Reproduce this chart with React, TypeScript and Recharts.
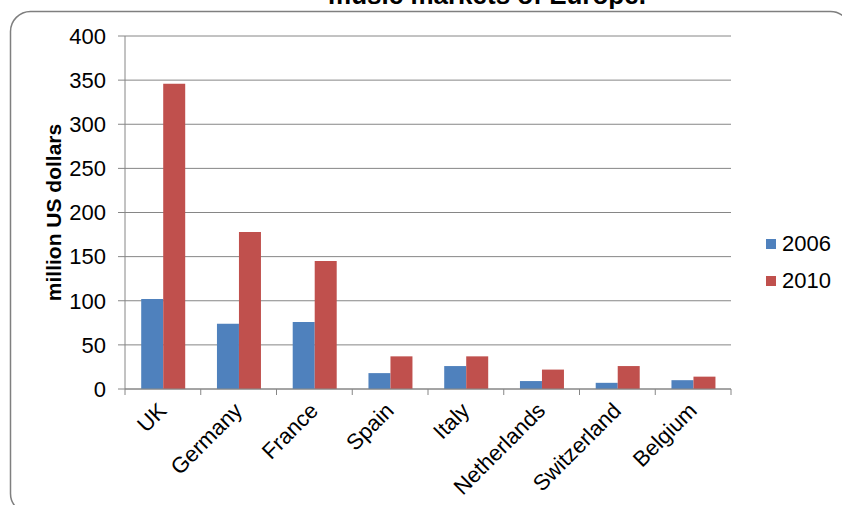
import React from "react";
import { BarChart, Bar, XAxis, YAxis, CartesianGrid, Legend } from "recharts";

const categories = ["UK", "Germany", "France", "Spain", "Italy", "Netherlands", "Switzerland", "Belgium"];
const values2006 = [102, 74, 76, 18, 26, 9, 7, 10];
const values2010 = [346, 178, 145, 37, 37, 22, 26, 14];
const yTicks = [0, 50, 100, 150, 200, 250, 300, 350, 400];
const seriesNames = ["2006", "2010"];
const seriesColors = ["#4F81BD", "#C0504D"];

const data = categories.map((c, i) => ({ name: c, y2006: values2006[i], y2010: values2010[i] }));

const FONT = "'Liberation Sans', Arial, sans-serif";
const GRID = "#868686";

const XTick = (props: any) => {
  const { x, y, payload, index } = props;
  const half = payload && payload.offset ? payload.offset : 0;
  const px = x + 5;
  const py = y + 23;
  return (
    <g>
      <line x1={x - half} y1={y} x2={x - half} y2={y + 6} stroke={GRID} strokeWidth={1} />
      {index === categories.length - 1 && <line x1={x + half} y1={y} x2={x + half} y2={y + 6} stroke={GRID} strokeWidth={1} />}
      <text x={px} y={py} transform={`rotate(-45, ${px}, ${py})`} textAnchor="end" fontSize={22} fill="#000" fontFamily={FONT}>
        {payload.value}
      </text>
    </g>
  );
};

const LegendContent = () => (
  <div style={{ fontFamily: FONT, fontSize: 22, color: "#000" }}>
    {seriesNames.map((n, i) => (
      <div key={n} style={{ display: "flex", alignItems: "center", height: 37 }}>
        <span style={{ display: "inline-block", width: 10, height: 10, background: seriesColors[i], marginRight: 6 }} />
        <span>{n}</span>
      </div>
    ))}
  </div>
);

export default function App() {
  return (
    <div style={{ position: "absolute", left: 0, top: 0, width: 842, height: 505, overflow: "hidden", background: "#fff", fontFamily: FONT }}>
      <svg width={842} height={505} style={{ position: "absolute", left: 0, top: 0 }}>
        <rect x={10.5} y={11.5} width={840} height={502} rx={20} ry={20} fill="none" stroke="#7f7f7f" strokeWidth={1.5} />
        <text x={487} y={4} textAnchor="middle" fontSize={26} fontWeight="bold" fontFamily={FONT} fill="#000">
          music markets of Europe.
        </text>
      </svg>
      <div style={{ position: "absolute", left: 0, top: 0 }}>
        <BarChart width={842} height={505} data={data} margin={{ top: 36, right: 31, bottom: 0, left: 0 }} barCategoryGap="21.4%" barGap={0}>
          <CartesianGrid vertical={false} stroke={GRID} strokeWidth={1} />
          <XAxis
            dataKey="name"
            height={116}
            tickSize={0}
            tickMargin={0}
            tickLine={false}
            axisLine={{ stroke: GRID }}
            tick={<XTick />}
            interval={0}
          />
          <YAxis
            domain={[0, 400]}
            ticks={yTicks}
            width={125}
            tickSize={7}
            tickMargin={12}
            stroke={GRID}
            tick={{ fill: "#000", fontSize: 22, fontFamily: FONT }}
            label={{
              content: (p: any) => {
                const vb = p.viewBox || { x: 0, y: 36, width: 125, height: 353 };
                const cx = 53;
                const cy = vb.y + vb.height / 2;
                return (
                  <text x={cx} y={cy} transform={`rotate(-90, ${cx}, ${cy})`} textAnchor="middle" dominantBaseline="central" fontSize={21} fontWeight="bold" fill="#000" fontFamily={FONT}>
                    million US dollars
                  </text>
                );
              },
            }}
          />
          <Legend layout="horizontal" verticalAlign="middle" align="right" content={<LegendContent />} wrapperStyle={{ left: 766, top: 225, width: 80 }} />
          <Bar dataKey="y2006" name="2006" fill={seriesColors[0]} isAnimationActive={false} />
          <Bar dataKey="y2010" name="2010" fill={seriesColors[1]} isAnimationActive={false} />
        </BarChart>
      </div>
    </div>
  );
}
